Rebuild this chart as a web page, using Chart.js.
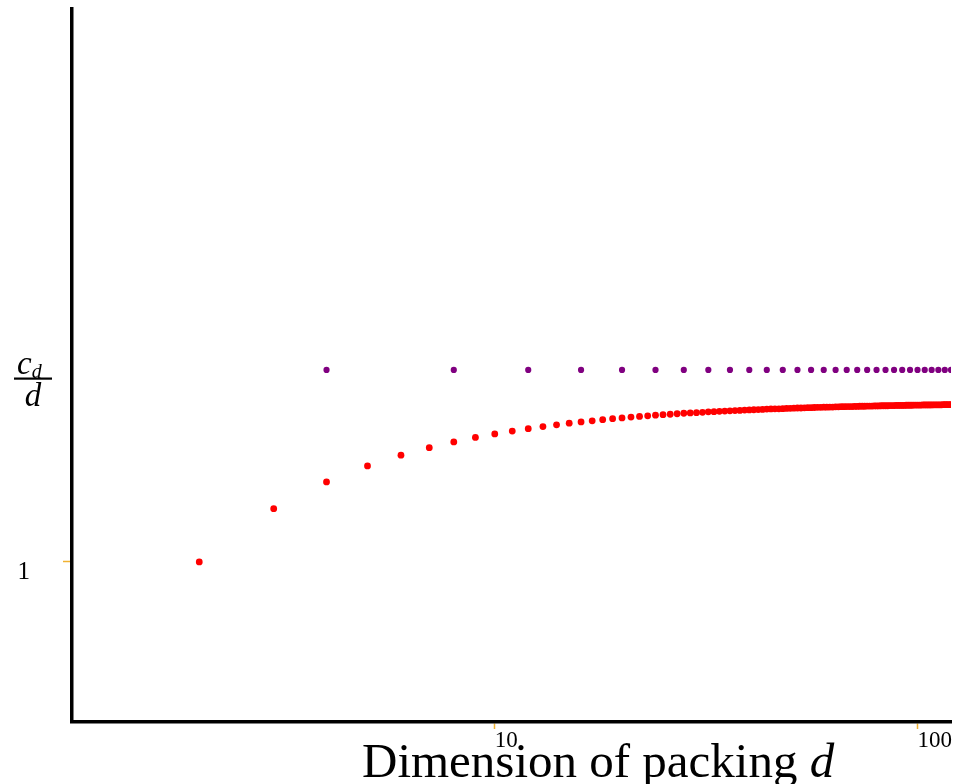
<!DOCTYPE html>
<html>
<head>
<meta charset="utf-8">
<script src="https://cdn.jsdelivr.net/npm/chart.js@4/dist/chart.umd.min.js"></script>
<style>
  html, body { margin: 0; padding: 0; background: #fff; overflow: hidden; }
  #chart { display: block; }
</style>
</head>
<body>
<canvas id="chart" width="956" height="784"></canvas>
<script>
// dimensions d for the red series
const redDims = [2, 3, 4, 5, 6, 7, 8, 9, 10, 11, 12, 13, 14, 15, 16, 17, 18, 19, 20,
    21, 22, 23, 24, 25, 26, 27, 28, 29, 30, 31, 32, 33, 34, 35, 36, 37, 38, 39, 40,
    41, 42, 43, 44, 45, 46, 47, 48, 49, 50, 51, 52, 53, 54, 55, 56, 57, 58, 59, 60,
    61, 62, 63, 64, 65, 66, 67, 68, 69, 70, 71, 72, 73, 74, 75, 76, 77, 78, 79, 80,
    81, 82, 83, 84, 85, 86, 87, 88, 89, 90, 91, 92, 93, 94, 95, 96, 97, 98, 99, 100,
    101, 102, 103, 104, 105, 106, 107, 108, 109, 110, 111, 112, 113, 114, 115, 116, 117, 118, 119, 120];
// c_d / d
const redValues = [1.000, 1.333, 1.500, 1.600, 1.667, 1.714, 1.750, 1.778, 1.800, 1.818, 1.833, 1.846, 1.857, 1.867, 1.875, 1.882, 1.889, 1.895, 1.900,
    1.905, 1.909, 1.913, 1.917, 1.920, 1.923, 1.926, 1.929, 1.931, 1.933, 1.935, 1.938, 1.939, 1.941, 1.943, 1.944, 1.946, 1.947, 1.949, 1.950,
    1.951, 1.952, 1.953, 1.955, 1.956, 1.957, 1.957, 1.958, 1.959, 1.960, 1.961, 1.962, 1.962, 1.963, 1.964, 1.964, 1.965, 1.966, 1.966, 1.967,
    1.967, 1.968, 1.968, 1.969, 1.969, 1.970, 1.970, 1.971, 1.971, 1.971, 1.972, 1.972, 1.973, 1.973, 1.973, 1.974, 1.974, 1.974, 1.975, 1.975,
    1.975, 1.976, 1.976, 1.976, 1.976, 1.977, 1.977, 1.977, 1.978, 1.978, 1.978, 1.978, 1.978, 1.979, 1.979, 1.979, 1.979, 1.980, 1.980, 1.980,
    1.980, 1.980, 1.981, 1.981, 1.981, 1.981, 1.981, 1.981, 1.982, 1.982, 1.982, 1.982, 1.982, 1.982, 1.983, 1.983, 1.983, 1.983, 1.983, 1.983];

// purple series: every 4th dimension, flat
const purpleDims = [4, 8, 12, 16, 20, 24, 28, 32, 36, 40, 44, 48, 52, 56, 60,
    64, 68, 72, 76, 80, 84, 88, 92, 96, 100, 104, 108, 112, 116, 120];
const purpleValues = [2.2, 2.2, 2.2, 2.2, 2.2, 2.2, 2.2, 2.2, 2.2, 2.2, 2.2, 2.2, 2.2, 2.2, 2.2,
    2.2, 2.2, 2.2, 2.2, 2.2, 2.2, 2.2, 2.2, 2.2, 2.2, 2.2, 2.2, 2.2, 2.2, 2.2];

const xTicks = [10, 100];
const yTicks = [1];
const xTitle = ['Dimension of packing ', 'd'];
const yTitle = ['c', 'd', 'd']; // numerator, subscript, denominator

const SERIF = '"Liberation Serif", "DejaVu Serif", serif';
const TICK_COLOR = '#f0b232';

function toPoints(xs, ys) {
    return xs.map((x, i) => ({ x: x, y: ys[i] }));
}

// draws the axis titles (mixed upright / italic, and the fraction)
const axisTitles = {
    id: 'axisTitles',
    afterDraw(chart) {
        const ctx = chart.ctx;
        const a = chart.chartArea;
        ctx.save();
        ctx.fillStyle = '#000';
        ctx.textBaseline = 'alphabetic';
        ctx.textAlign = 'left';

        let x = a.left + 290, y = a.bottom + 55;
        ctx.font = `49px ${SERIF}`;
        ctx.fillText(xTitle[0], x, y);
        x += ctx.measureText(xTitle[0]).width;
        ctx.font = `italic 49px ${SERIF}`;
        ctx.fillText(xTitle[1], x, y);

        // c_d over d
        ctx.font = `italic 33px ${SERIF}`;
        ctx.fillText(yTitle[0], 17, 374);
        let cw = ctx.measureText(yTitle[0]).width;
        ctx.font = `italic 20px ${SERIF}`;
        ctx.fillText(yTitle[1], 17 + cw, 378);
        ctx.fillRect(14, 377.5, 38, 2.2);
        ctx.font = `italic 33px ${SERIF}`;
        ctx.textAlign = 'center';
        ctx.fillText(yTitle[2], 33, 406);
        ctx.restore();
    }
};

new Chart(document.getElementById('chart'), {
    type: 'scatter',
    data: {
        datasets: [
            {
                label: 'red',
                data: toPoints(redDims, redValues),
                backgroundColor: '#ff0000',
                borderWidth: 0,
                pointRadius: 3.4
            },
            {
                label: 'purple',
                data: toPoints(purpleDims, purpleValues),
                backgroundColor: '#800080',
                borderWidth: 0,
                pointRadius: 3.1
            }
        ]
    },
    options: {
        responsive: false,
        animation: false,
        layout: { padding: { top: 9, right: 5, left: 0, bottom: 0 } },
        plugins: {
            legend: { display: false },
            tooltip: { enabled: false }
        },
        scales: {
            x: {
                type: 'logarithmic',
                min: 1,
                max: 120,
                afterFit: s => { s.height = 62; s.paddingLeft = 0; s.paddingRight = 0; },
                afterBuildTicks: s => { s.ticks = xTicks.map(v => ({ value: v })); },
                border: { color: '#000', width: 3.5 },
                grid: { drawOnChartArea: false, tickLength: 7, tickColor: TICK_COLOR, tickWidth: 1.5 },
                ticks: {
                    align: 'start',
                    color: '#000',
                    font: { family: SERIF, size: 23 },
                    padding: -2,
                    maxRotation: 0,
                    autoSkip: false,
                    callback: v => String(v)
                }
            },
            y: {
                type: 'linear',
                min: 0,
                max: 4.455,
                afterFit: s => { s.width = 72; s.paddingTop = 0; s.paddingBottom = 0; },
                afterBuildTicks: s => { s.ticks = yTicks.map(v => ({ value: v })); },
                border: { color: '#000', width: 3.5 },
                grid: { drawOnChartArea: false, tickLength: 9, tickColor: TICK_COLOR, tickWidth: 1.5 },
                ticks: {
                    color: '#000',
                    font: { family: SERIF, size: 25 },
                    padding: 33,
                    labelOffset: 10,
                    callback: v => String(v)
                }
            }
        }
    },
    plugins: [axisTitles]
});
</script>
</body>
</html>
